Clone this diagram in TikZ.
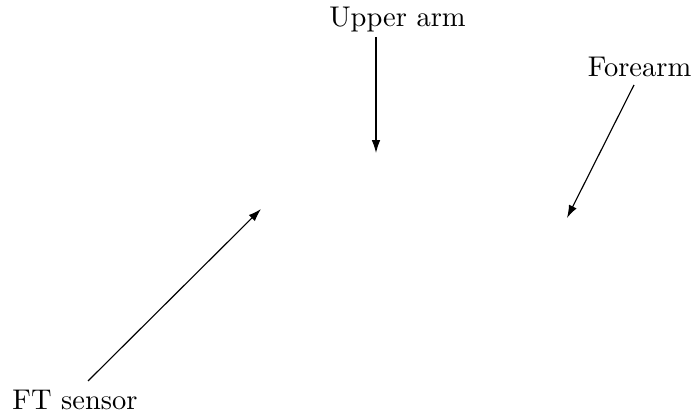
\documentclass[tikz,border=0pt]{standalone}
\usetikzlibrary{arrows.meta}
\begin{document}
\begin{tikzpicture}[x=0.3509pt,y=-0.3509pt,
  lbl/.style={anchor=base,inner sep=0pt},
  pointer/.style={draw,-{Latex[length=4.5pt,width=3pt]},line width=0.4pt}]
\useasboundingbox (0,0) rectangle (692,413);
\node[lbl] (upper) at (397.5,27) {Upper arm};
\node[lbl] (fore) at (639.5,77) {Forearm};
\node[lbl] (ft) at (75,410) {FT sensor};
\coordinate (upperS) at (376,37);
\coordinate (upperT) at (376,153);
\coordinate (foreS) at (634,85);
\coordinate (foreT) at (567,218);
\coordinate (ftS) at (88,381);
\coordinate (ftT) at (261,209);
\draw[pointer] (upperS) -- (upperT);
\draw[pointer] (foreS) -- (foreT);
\draw[pointer] (ftS) -- (ftT);
\end{tikzpicture}
\end{document}
